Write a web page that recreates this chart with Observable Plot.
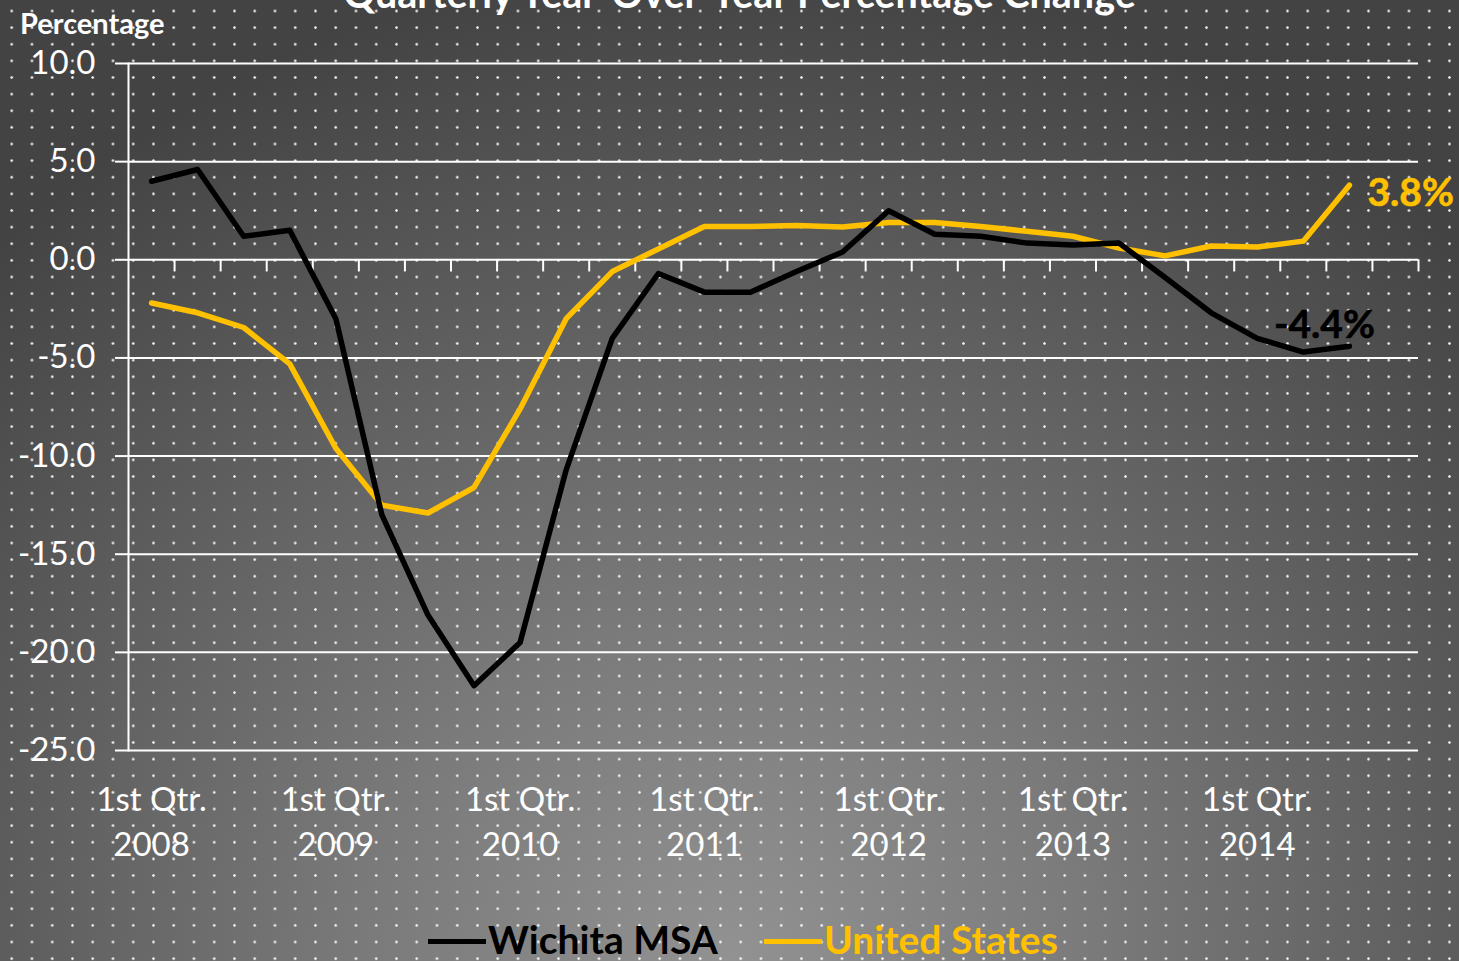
<!DOCTYPE html>
<html>
<head>
<meta charset="utf-8">
<script src="https://cdn.jsdelivr.net/npm/d3@7"></script>
<script src="https://cdn.jsdelivr.net/npm/@observablehq/plot@0.6"></script>
<style>
  html, body { margin: 0; padding: 0; }
  #wrap {
    position: relative; width: 1459px; height: 961px; overflow: hidden;
    font-family: Lato, "Noto Sans", sans-serif;
    background-color: #5a5a5a;
    background-image:
      radial-gradient(circle, rgba(255,255,255,0.9) 0.9px, rgba(255,255,255,0) 1.6px),
      radial-gradient(ellipse 1050px 1000px at 50% 100%, #929292 0%, #7a7a7a 35%, #5c5c5c 70%, #434343 100%);
    background-size: 20.26px 16.63px, 100% 100%;
    background-position: 1.6px 2.7px, 0 0;
  }
  #title {
    position: absolute; left: 0; width: 1459px; top: -27px; text-align: center;
    color: white; font-weight: bold; font-size: 39.5px; line-height: 39.5px; white-space: nowrap;
    padding-left: 20px; box-sizing: border-box;
  }
  #ylab {
    position: absolute; left: 20px; top: 8px; color: white; font-weight: bold;
    font-size: 29px; line-height: 29px;
  }
  #chart { position: absolute; left: 0; top: 0; }
  #legend {
    position: absolute; left: 428px; top: 920px; font-weight: bold; font-size: 39px;
    line-height: 39px; white-space: nowrap; display: flex; align-items: center;
  }
  .sw { display: inline-block; width: 58px; height: 5px; margin-right: 2px; position: relative; top: 2px; }
</style>
</head>
<body>
<div id="wrap">
  <div id="title">Quarterly Year-Over-Year Percentage Change</div>
  <div id="ylab">Percentage</div>
  <div id="chart"></div>
  <div id="legend">
    <span class="sw" style="background:#000"></span><span style="color:#000">Wichita MSA</span>
    <span class="sw" style="background:#FFC000;margin-left:46px"></span><span style="color:#FFC000">United States</span>
  </div>
</div>
<script>
// Quarters on the category axis (28 bands, 2008 Q1 .. 2014 Q4)
const years = [2008, 2009, 2010, 2011, 2012, 2013, 2014];
const quarterNames = ["1st Qtr.", "2nd Qtr.", "3rd Qtr.", "4th Qtr."];
const quarters = years.flatMap(y => quarterNames.map(q => `${q}\n${y}`));

// Series values (2008 Q1 .. 2014 Q3)
const wichita = [4.0, 4.6, 1.2, 1.5, -3.0, -13.0, -18.1, -21.7, -19.5, -10.7, -4.0, -0.7, -1.65, -1.65,
                 -0.6, 0.4, 2.5, 1.3, 1.2, 0.85, 0.75, 0.85, -0.9, -2.7, -4.0, -4.7, -4.4];
const us = [-2.2, -2.7, -3.45, -5.3, -9.6, -12.5, -12.9, -11.6, -7.6, -3.0, -0.6, 0.55, 1.7, 1.7,
            1.75, 1.67, 1.9, 1.9, 1.7, 1.45, 1.2, 0.6, 0.2, 0.7, 0.65, 0.95, 3.8];

// Axis ticks
const yTicks = [10, 5, 0, -5, -10, -15, -20, -25];
const xLabelIdx = quarters.map((q, i) => i).filter(i => i % 4 === 0);

const BLACK = "#000000", GOLD = "#FFC000";

const rows = [
  ...wichita.map((v, i) => ({i, v, s: "Wichita MSA"})),
  ...us.map((v, i) => ({i, v, s: "United States"}))
];
const boundaries = quarters.map((q, i) => i + 0.5);
const lastW = {i: wichita.length - 1, v: wichita[wichita.length - 1]};
const lastU = {i: us.length - 1, v: us[us.length - 1]};

const chart = Plot.plot({
  width: 1459,
  height: 961,
  marginLeft: 128,
  marginRight: 41,
  marginTop: 63,
  marginBottom: 211,
  style: {background: "transparent", color: "white", fontFamily: "Lato, 'Noto Sans', sans-serif", overflow: "visible"},
  x: {domain: [-0.5, quarters.length - 0.5]},
  y: {domain: [-25, 10]},
  marks: [
    Plot.ruleY(yTicks, {stroke: "white", strokeWidth: 2}),
    Plot.frame({anchor: "left", stroke: "white", strokeWidth: 2}),
    Plot.ruleX(boundaries, {y1: 0, y2: -0.62, stroke: "white", strokeWidth: 2}),
    Plot.axisY({ticks: yTicks, tickSize: 13, tickPadding: 20, tickFormat: d => d.toFixed(1),
                fontSize: 33, label: null, stroke: "white", strokeWidth: 2, color: "white"}),
    Plot.axisX({ticks: xLabelIdx, tickSize: 0, tickPadding: 29, tickFormat: i => quarters[i],
                fontSize: 33, lineHeight: 1.36, label: null, color: "white"}),
    Plot.line(rows.filter(d => d.s === "United States"), {x: "i", y: "v", stroke: GOLD, strokeWidth: 5.5, strokeLinejoin: "round"}),
    Plot.line(rows.filter(d => d.s === "Wichita MSA"), {x: "i", y: "v", stroke: BLACK, strokeWidth: 5.5, strokeLinejoin: "round"}),
    Plot.text([lastU], {x: "i", y: "v", text: d => d.v.toFixed(1) + "%", fill: GOLD, fontSize: 39,
               fontWeight: "bold", textAnchor: "start", dx: 18, dy: 8, stroke: GOLD, strokeWidth: 0.6}),
    Plot.text([lastW], {x: "i", y: "v", text: d => d.v.toFixed(1) + "%", fill: BLACK, fontSize: 39,
               fontWeight: "bold", textAnchor: "middle", dx: -25, dy: -21, stroke: BLACK, strokeWidth: 0.6})
  ]
});
document.getElementById("chart").appendChild(chart);
</script>
</body>
</html>
